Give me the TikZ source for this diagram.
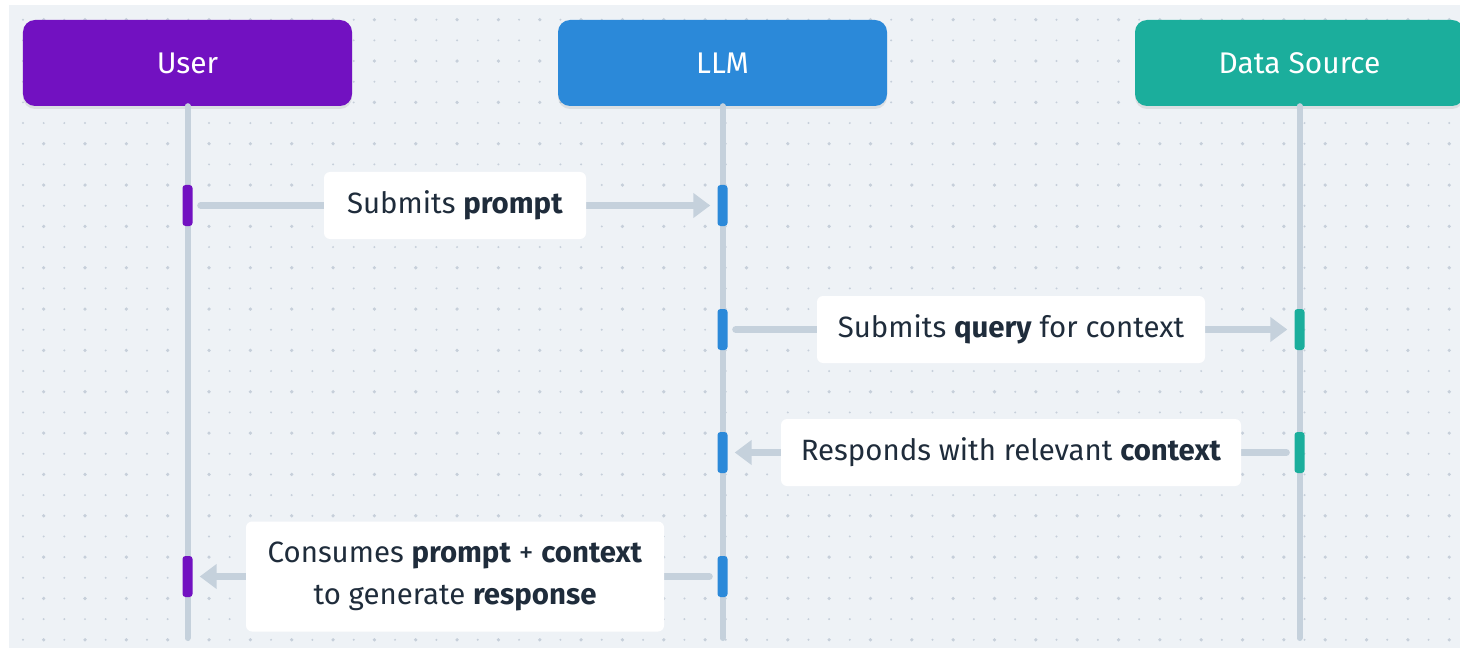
\documentclass[tikz,border=0pt]{standalone}
\usepackage{fontspec}
\setmainfont{Fira Sans}
\usetikzlibrary{arrows.meta,shadows}
\definecolor{bg}{HTML}{EEF2F6}
\definecolor{dotc}{HTML}{C6CFDA}
\definecolor{life}{HTML}{C5D1DC}
\definecolor{userc}{HTML}{7211C1}
\definecolor{llmc}{HTML}{2B89D9}
\definecolor{dsc}{HTML}{1BAE9C}
\definecolor{txt}{HTML}{1F2C3B}
\begin{document}
\begin{tikzpicture}[x=1bp,y=-1bp,
  head/.style={rounded corners=12bp, minimum width=329bp, minimum height=86bp, inner sep=0pt,
    text=white, font=\fontsize{30}{34}\selectfont,
    drop shadow={shadow xshift=0bp, shadow yshift=-3bp, opacity=0.08, fill=black}},
  lifeline/.style={draw=life, line width=6bp, line cap=round},
  actbar/.style={rounded corners=3bp, minimum width=10bp, minimum height=41bp, inner sep=0pt},
  msg/.style={draw=life, line width=7bp, line cap=round, -{Triangle[width=24bp,length=17bp]}, shorten <=8bp, shorten >=7bp},
  lbl/.style={fill=white, rounded corners=6bp, inner xsep=8bp, inner ysep=0pt, minimum height=67bp,
    text=txt, font=\fontsize{29.5}{43}\selectfont, align=center}
]
\useasboundingbox (0,0) rectangle (1460,648);
\fill[white] (0,0) rectangle (1460,648);
\fill[bg] (9,5) rectangle (1460,648);
% dot grid
\foreach \i in {0,...,69}{\foreach \j in {0,...,30}{
  \fill[dotc] ({23+20.67*\i},{19.7+20.67*\j}) circle[radius=1.1bp];}}
\foreach \i in {1,3,...,69}{\foreach \j in {0,2,...,30}{
  \fill[dotc] ({23+20.67*\i},{19.7+20.67*\j}) circle[radius=1.8bp];}}

% heads
\node[head, fill=userc] (user) at (187.5,63) {User};
\node[head, fill=llmc] (llm) at (722.5,63) {LLM};
\node[head, fill=dsc] (ds) at (1299.5,63) {Data Source};

\coordinate (userend) at (187.5,638);
\coordinate (llmend) at (722.5,638);
\coordinate (dsend) at (1299.5,638);
\draw[lifeline] (user.south) -- (userend);
\draw[lifeline] (llm.south) -- (llmend);
\draw[lifeline] (ds.south) -- (dsend);

% activation bars
\node[actbar, fill=userc] (u1) at (187.5,205.5) {};
\node[actbar, fill=llmc] (l1) at (722.5,205.5) {};
\node[actbar, fill=llmc] (l2) at (722.5,329.5) {};
\node[actbar, fill=dsc] (d2) at (1299.5,329.5) {};
\node[actbar, fill=llmc] (l3) at (722.5,452.5) {};
\node[actbar, fill=dsc] (d3) at (1299.5,452.5) {};
\node[actbar, fill=userc] (u4) at (187.5,576.5) {};
\node[actbar, fill=llmc] (l4) at (722.5,576.5) {};

% messages
\draw[msg] (u1.east) -- node[lbl, minimum width=262bp] (m1) {Submits \textbf{prompt}} (l1.west);
\draw[msg] (l2.east) -- node[lbl, minimum width=388bp] (m2) {Submits \textbf{query} for context} (d2.west);
\draw[msg] (d3.west) -- node[lbl, minimum width=460bp] (m3) {Responds with relevant \textbf{context}} (l3.east);
\draw[msg] (l4.west) -- node[lbl, minimum width=418bp, minimum height=110bp] (m4) {Consumes \textbf{prompt} + \textbf{context}\\to generate \textbf{response}} (u4.east);
\end{tikzpicture}
\end{document}
